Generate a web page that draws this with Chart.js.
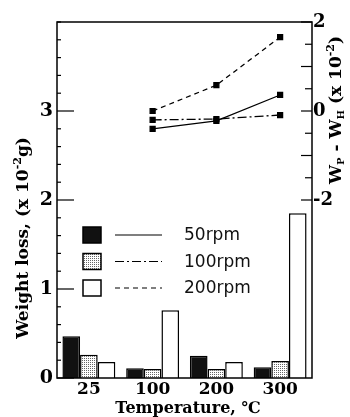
<!DOCTYPE html>
<html>
<head>
<meta charset="utf-8">
<script src="https://cdn.jsdelivr.net/npm/chart.js@4/dist/chart.umd.min.js"></script>
<style>
  body { margin: 0; background: #fff; }
  #wrap { width: 350px; height: 417px; }
</style>
</head>
<body>
<div id="wrap"><canvas id="chart" width="350" height="417"></canvas></div>
<script>
// data
const categories = ["25", "100", "200", "300"];
const seriesNames = ["50rpm", "100rpm", "200rpm"];
const weightLoss50 = [0.47, 0.11, 0.25, 0.12];
const weightLoss100 = [0.26, 0.10, 0.10, 0.19];
const weightLoss200 = [0.18, 0.76, 0.18, 1.85];
const diff50 = [null, -0.40, -0.22, 0.36];
const diff100 = [null, -0.20, -0.18, -0.09];
const diff200 = [null, 0.00, 0.58, 1.66];
const leftLabels = [0, 1, 2, 3];
const rightLabels = [2, 0, -2];

const serif = "'DejaVu Serif', serif";
const canvas = document.getElementById("chart");
const ctx = canvas.getContext("2d");

function dotPattern() {
    const c = document.createElement("canvas");
    c.width = 2; c.height = 2;
    const g = c.getContext("2d");
    g.fillStyle = "#fff";
    g.fillRect(0, 0, 2, 2);
    g.fillStyle = "#666";
    g.fillRect(0, 0, 1, 1);
    return ctx.createPattern(c, "repeat");
}

const barFills = ["#111", dotPattern(), "#fff"];
const dashes = [[], [9, 3, 2, 3], [5, 4]];

function near(v, list) {
    return list.some(t => Math.abs(v - t) < 1e-6);
}

// text made of runs (superscripts, subscripts), centred on 0
function drawRuns(g, runs, size) {
    let total = 0;
    runs.forEach(r => {
        g.font = "bold " + Math.round(size * (r.s || 1)) + "px " + serif;
        r.w = g.measureText(r.t).width;
        total += r.w;
    });
    let x = -total / 2;
    runs.forEach(r => {
        g.font = "bold " + Math.round(size * (r.s || 1)) + "px " + serif;
        g.fillText(r.t, x, (r.dy || 0) * size);
        x += r.w;
    });
}

const decor = {
    id: "decor",
    afterDraw(chart) {
        const g = chart.ctx;
        const a = chart.chartArea;
        const y = chart.scales.y;
        const y2 = chart.scales.y2;
        g.save();
        g.strokeStyle = "#000";
        g.fillStyle = "#000";

        // frame
        g.lineWidth = 1.5;
        g.strokeRect(a.left, a.top, a.right - a.left, a.bottom - a.top);

        // inward ticks, left axis
        g.lineWidth = 1.2;
        y.ticks.forEach(t => {
            const py = y.getPixelForValue(t.value);
            const len = near(t.value, leftLabels) ? 17 : 4;
            g.beginPath();
            g.moveTo(a.left, py);
            g.lineTo(a.left + len, py);
            g.stroke();
        });
        // inward ticks, right axis (only -2..2)
        y2.ticks.forEach(t => {
            if (t.value < -2.001) return;
            const py = y2.getPixelForValue(t.value);
            const len = Math.abs(t.value % 1) < 1e-6 ? 11 : 7;
            g.beginPath();
            g.moveTo(a.right, py);
            g.lineTo(a.right - len, py);
            g.stroke();
        });

        // legend
        g.textBaseline = "middle";
        seriesNames.forEach((name, i) => {
            const cy = 235 + i * 26.5;
            g.fillStyle = barFills[i];
            g.fillRect(83, cy - 8, 18, 16);
            g.lineWidth = 1.5;
            g.strokeRect(83, cy - 8, 18, 16);
            g.lineWidth = 1.2;
            g.setLineDash(dashes[i]);
            g.beginPath();
            g.moveTo(115, cy);
            g.lineTo(162, cy);
            g.stroke();
            g.setLineDash([]);
            g.fillStyle = "#111";
            g.font = "17px 'DejaVu Sans', sans-serif";
            g.textAlign = "left";
            g.fillText(name, 184, cy + 1);
        });

        // axis titles
        g.fillStyle = "#000";
        g.textAlign = "left";
        g.textBaseline = "alphabetic";
        g.save();
        g.translate(28, 238);
        g.rotate(-Math.PI / 2);
        drawRuns(g, [
            { t: "Weight loss, (x 10" },
            { t: "-2", s: 0.65, dy: -0.4 },
            { t: "g)" }
        ], 17);
        g.restore();

        g.save();
        g.translate(341, 110);
        g.rotate(-Math.PI / 2);
        drawRuns(g, [
            { t: "W" },
            { t: "P", s: 0.6, dy: 0.2 },
            { t: " - W" },
            { t: "H", s: 0.6, dy: 0.2 },
            { t: " (x 10" },
            { t: "-2", s: 0.65, dy: -0.4 },
            { t: ")" }
        ], 17);
        g.restore();

        g.textAlign = "center";
        g.font = "bold 16px " + serif;
        g.fillText("Temperature, \u2103", 188, 413);
        g.restore();
    }
};

const barSets = [weightLoss50, weightLoss100, weightLoss200].map((d, i) => ({
    type: "bar",
    label: seriesNames[i],
    data: d,
    yAxisID: "y",
    backgroundColor: barFills[i],
    borderColor: "#000",
    borderWidth: 1.5,
    borderSkipped: "start",
    categoryPercentage: 0.83,
    barPercentage: 1.0,
    order: 2
}));

const lineSets = [diff50, diff100, diff200].map((d, i) => ({
    type: "line",
    label: seriesNames[i],
    data: d,
    yAxisID: "y2",
    borderColor: "#000",
    borderWidth: 1.3,
    borderDash: dashes[i],
    pointStyle: "rect",
    pointRadius: 3.5,
    pointBackgroundColor: "#000",
    pointBorderColor: "#000",
    tension: 0,
    order: 1
}));

new Chart(canvas, {
    data: {
        labels: categories,
        datasets: [...barSets, ...lineSets]
    },
    options: {
        responsive: false,
        animation: false,
        layout: { padding: { top: 22 } },
        plugins: {
            legend: { display: false },
            tooltip: { enabled: false }
        },
        scales: {
            x: {
                grid: { display: false, drawTicks: false },
                border: { display: false },
                ticks: { color: "#000", font: { family: serif, size: 17, weight: "bold" }, padding: 1 },
                afterFit: s => { s.height = 39; }
            },
            y: {
                position: "left",
                min: 0,
                max: 4,
                grid: { display: false, drawTicks: false },
                border: { display: false },
                ticks: {
                    stepSize: 0.2,
                    autoSkip: false,
                    color: "#000",
                    padding: 4,
                    font: { family: serif, size: 19, weight: "bold" },
                    callback: v => near(v, leftLabels) ? String(Math.round(v)) : ""
                },
                afterFit: s => { s.width = 57; }
            },
            y2: {
                position: "right",
                min: -6,
                max: 2,
                grid: { display: false, drawTicks: false },
                border: { display: false },
                ticks: {
                    stepSize: 0.5,
                    autoSkip: false,
                    color: "#000",
                    padding: 1,
                    font: { family: serif, size: 18, weight: "bold" },
                    callback: v => near(v, rightLabels) ? String(Math.round(v)) : ""
                },
                afterFit: s => { s.width = 38; }
            }
        }
    },
    plugins: [decor]
});
</script>
</body>
</html>
